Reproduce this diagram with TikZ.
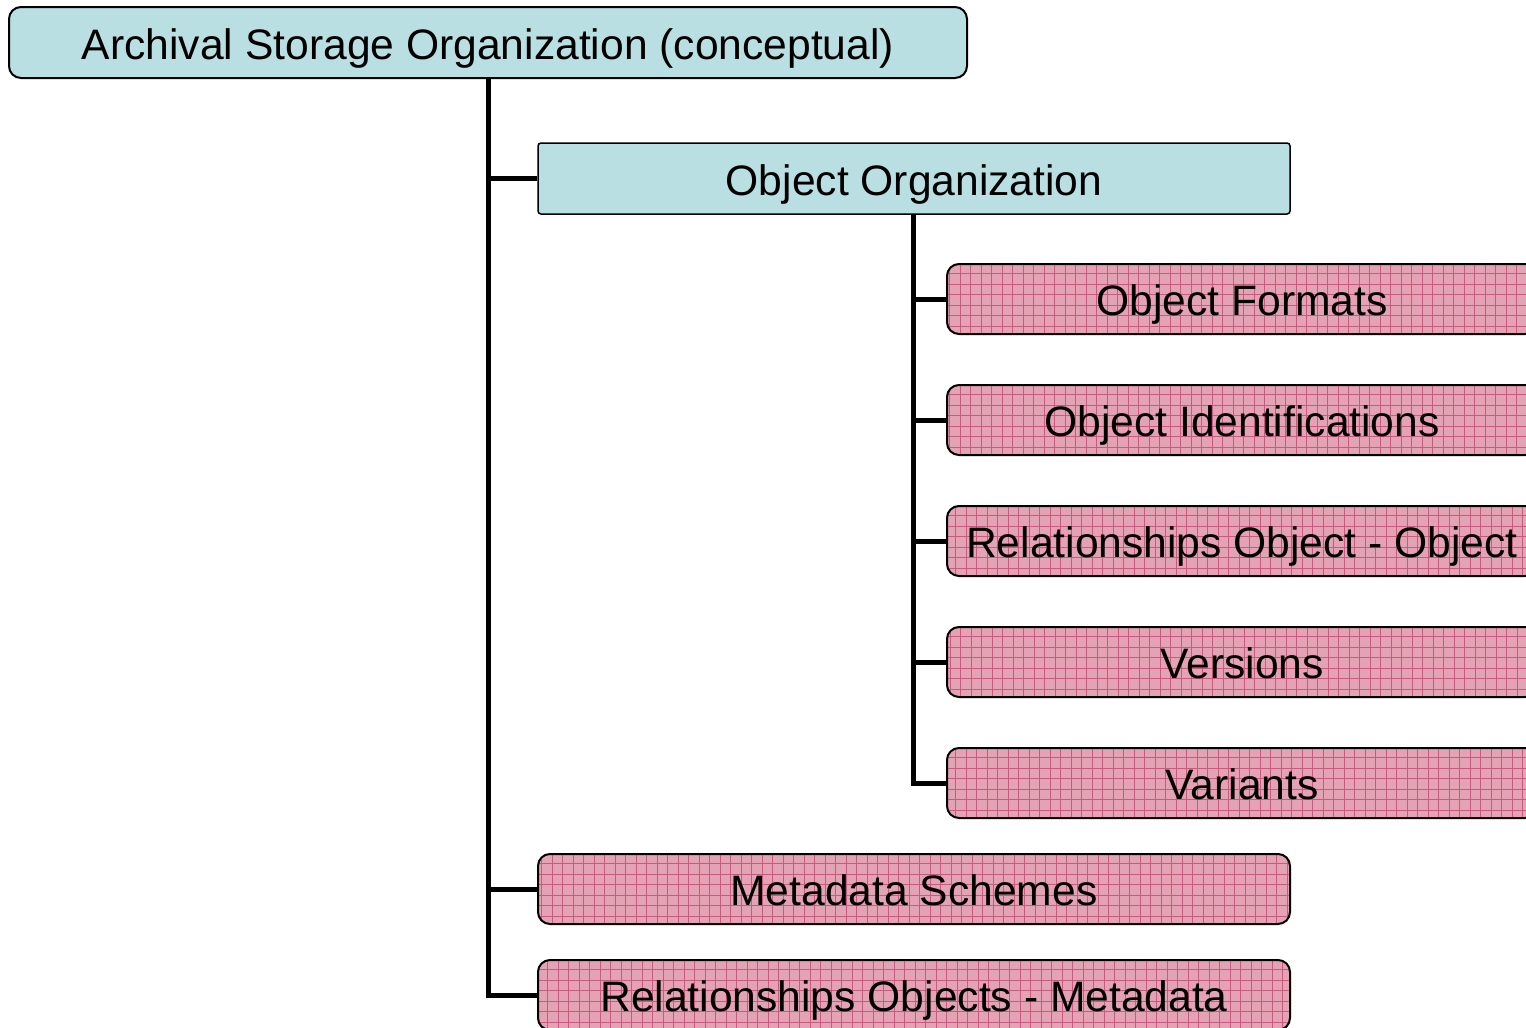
\documentclass[tikz,border=0pt]{standalone}
\usepackage{fontspec}
\setmainfont{Liberation Sans}
\definecolor{boxblue}{HTML}{B9DFE3}
\definecolor{boxpink}{HTML}{E4A3B4}
\definecolor{gridpink}{HTML}{C65A80}
\tikzset{
  every node/.style={font=\fontsize{42.6}{50}\selectfont, text=black, inner sep=0pt,
    text height=36pt, text depth=3pt},
  rootbox/.style={draw=black, line width=2pt, fill=boxblue, rounded corners=12pt},
  bluebox/.style={draw=black, line width=1.5pt, fill=boxblue, rounded corners=3pt},
  pinkbox/.style={draw=black, line width=2pt, fill=boxpink, rounded corners=12pt,
    path picture={\draw[gridpink, line width=0.8pt]
      ([xshift=-5pt,yshift=-5pt]path picture bounding box.south west)
      grid[step=10.5pt] ([xshift=5pt,yshift=5pt]path picture bounding box.north east);}},
  conn/.style={draw=black, line width=5pt, line join=miter},
}
\begin{document}
\begin{tikzpicture}[x=1pt, y=-1pt]
  \useasboundingbox (0,0) rectangle (1526,1028);
  \clip (0,0) rectangle (1526,1028);

  % tree nodes
  \node (root) [rootbox, minimum width=958pt, minimum height=71pt] at (488,42.5) {Archival Storage Organization (conceptual)};
  \node (oo) [bluebox, minimum width=752pt, minimum height=71pt] at (914,178.5) {Object Organization};
  \node (of) [pinkbox, minimum width=590pt, minimum height=70pt] at (1242,299) {Object Formats};
  \node (oi) [pinkbox, minimum width=590pt, minimum height=70pt] at (1242,420) {Object Identifications};
  \node (ro) [pinkbox, minimum width=590pt, minimum height=70pt] at (1242,541) {Relationships Object - Object};
  \node (ve) [pinkbox, minimum width=590pt, minimum height=70pt] at (1242,662) {Versions};
  \node (va) [pinkbox, minimum width=590pt, minimum height=70pt] at (1242,783) {Variants};
  \node (ms) [pinkbox, minimum width=752pt, minimum height=70pt] at (914,889) {Metadata Schemes};
  \node (rm) [pinkbox, minimum width=752pt, minimum height=70pt] at (914,995) {Relationships Objects - Metadata};

  % connectors from the root
  \draw[conn] (root.south) |- (oo.west);
  \draw[conn] (root.south) |- (ms.west);
  \draw[conn] (root.south) |- (rm.west);

  % connectors from Object Organization
  \foreach \c in {of,oi,ro,ve,va}
    \draw[conn] ([xshift=-1pt]oo.south) |- (\c.west);
\end{tikzpicture}
\end{document}
